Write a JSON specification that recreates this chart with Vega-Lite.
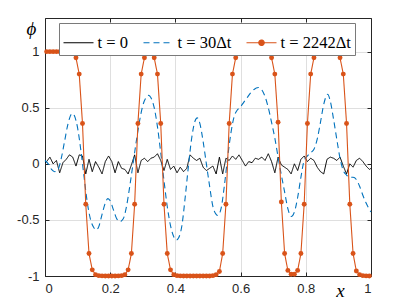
{
  "$schema": "https://vega.github.io/schema/vega-lite/v6.json",
  "width": 326,
  "height": 258,
  "autosize": {"type": "none"},
  "padding": {"left": 45, "top": 18, "right": 25, "bottom": 26},
  "config": {
    "view": {"stroke": null},
    "axis": {
      "labelFont": "Liberation Sans, Arial, Helvetica, sans-serif", "labelFontSize": 13, "labelColor": "#262626",
      "domainColor": "#262626", "tickColor": "#262626", "gridColor": "#dfdfdf",
      "tickSize": -4, "labelPadding": 10, "domainWidth": 1, "tickWidth": 1
    }
  },
  "data": {"values": [
    {"x":0.005,"y":1,"s":"c"},{"x":0.015,"y":1,"s":"c"},{"x":0.025,"y":1,"s":"c"},{"x":0.035,"y":1,"s":"c"},{"x":0.045,"y":1,"s":"c"},{"x":0.055,"y":1,"s":"c"},{"x":0.065,"y":0.999,"s":"c"},{"x":0.075,"y":0.997,"s":"c"},{"x":0.085,"y":0.988,"s":"c"},{"x":0.095,"y":0.945,"s":"c"},
    {"x":0.105,"y":0.8,"s":"c"},{"x":0.115,"y":0.36,"s":"c"},{"x":0.125,"y":-0.36,"s":"c"},{"x":0.135,"y":-0.8,"s":"c"},{"x":0.145,"y":-0.945,"s":"c"},{"x":0.155,"y":-0.988,"s":"c"},{"x":0.165,"y":-0.997,"s":"c"},{"x":0.175,"y":-0.999,"s":"c"},{"x":0.185,"y":-1,"s":"c"},{"x":0.195,"y":-1,"s":"c"},
    {"x":0.205,"y":-1,"s":"c"},{"x":0.215,"y":-1,"s":"c"},{"x":0.225,"y":-0.999,"s":"c"},{"x":0.235,"y":-0.997,"s":"c"},{"x":0.245,"y":-0.988,"s":"c"},{"x":0.255,"y":-0.945,"s":"c"},{"x":0.265,"y":-0.8,"s":"c"},{"x":0.275,"y":-0.36,"s":"c"},{"x":0.285,"y":0.36,"s":"c"},{"x":0.295,"y":0.8,"s":"c"},
    {"x":0.305,"y":0.945,"s":"c"},{"x":0.315,"y":0.985,"s":"c"},{"x":0.325,"y":0.985,"s":"c"},{"x":0.335,"y":0.945,"s":"c"},{"x":0.345,"y":0.8,"s":"c"},{"x":0.355,"y":0.36,"s":"c"},{"x":0.365,"y":-0.36,"s":"c"},{"x":0.375,"y":-0.8,"s":"c"},{"x":0.385,"y":-0.945,"s":"c"},{"x":0.395,"y":-0.988,"s":"c"},
    {"x":0.405,"y":-0.997,"s":"c"},{"x":0.415,"y":-0.999,"s":"c"},{"x":0.425,"y":-1,"s":"c"},{"x":0.435,"y":-1,"s":"c"},{"x":0.445,"y":-1,"s":"c"},{"x":0.455,"y":-1,"s":"c"},{"x":0.465,"y":-1,"s":"c"},{"x":0.475,"y":-1,"s":"c"},{"x":0.485,"y":-1,"s":"c"},{"x":0.495,"y":-1,"s":"c"},
    {"x":0.505,"y":-1,"s":"c"},{"x":0.515,"y":-0.997,"s":"c"},{"x":0.525,"y":-0.988,"s":"c"},{"x":0.535,"y":-0.96,"s":"c"},{"x":0.545,"y":-0.8,"s":"c"},{"x":0.555,"y":-0.36,"s":"c"},{"x":0.565,"y":0.36,"s":"c"},{"x":0.575,"y":0.8,"s":"c"},{"x":0.585,"y":0.945,"s":"c"},{"x":0.595,"y":0.988,"s":"c"},
    {"x":0.605,"y":0.997,"s":"c"},{"x":0.615,"y":0.999,"s":"c"},{"x":0.625,"y":1,"s":"c"},{"x":0.635,"y":1,"s":"c"},{"x":0.645,"y":1,"s":"c"},{"x":0.655,"y":1,"s":"c"},{"x":0.665,"y":0.999,"s":"c"},{"x":0.675,"y":0.997,"s":"c"},{"x":0.685,"y":0.988,"s":"c"},{"x":0.695,"y":0.945,"s":"c"},
    {"x":0.705,"y":0.8,"s":"c"},{"x":0.715,"y":0.37,"s":"c"},{"x":0.725,"y":-0.34,"s":"c"},{"x":0.735,"y":-0.8,"s":"c"},{"x":0.745,"y":-0.95,"s":"c"},{"x":0.755,"y":-0.985,"s":"c"},{"x":0.765,"y":-0.985,"s":"c"},{"x":0.775,"y":-0.95,"s":"c"},{"x":0.785,"y":-0.8,"s":"c"},{"x":0.795,"y":-0.36,"s":"c"},
    {"x":0.805,"y":0.36,"s":"c"},{"x":0.815,"y":0.8,"s":"c"},{"x":0.825,"y":0.945,"s":"c"},{"x":0.835,"y":0.988,"s":"c"},{"x":0.845,"y":0.997,"s":"c"},{"x":0.855,"y":0.999,"s":"c"},{"x":0.865,"y":1,"s":"c"},{"x":0.875,"y":0.999,"s":"c"},{"x":0.885,"y":0.997,"s":"c"},{"x":0.895,"y":0.988,"s":"c"},
    {"x":0.905,"y":0.945,"s":"c"},{"x":0.915,"y":0.8,"s":"c"},{"x":0.925,"y":0.36,"s":"c"},{"x":0.935,"y":-0.36,"s":"c"},{"x":0.945,"y":-0.8,"s":"c"},{"x":0.955,"y":-0.955,"s":"c"},{"x":0.965,"y":-0.988,"s":"c"},{"x":0.975,"y":-0.997,"s":"c"},{"x":0.985,"y":-0.999,"s":"c"},{"x":0.995,"y":-1,"s":"c"},

    {"x":0.0,"y":0.03,"s":"b"},{"x":0.01,"y":0.0,"s":"b"},{"x":0.02,"y":-0.05,"s":"b"},{"x":0.03,"y":-0.07,"s":"b"},{"x":0.04,"y":-0.05,"s":"b"},{"x":0.05,"y":0.05,"s":"b"},{"x":0.06,"y":0.2,"s":"b"},{"x":0.07,"y":0.35,"s":"b"},{"x":0.08,"y":0.44,"s":"b"},{"x":0.085,"y":0.45,"s":"b"},
    {"x":0.09,"y":0.43,"s":"b"},{"x":0.1,"y":0.32,"s":"b"},{"x":0.11,"y":0.12,"s":"b"},{"x":0.12,"y":-0.12,"s":"b"},{"x":0.13,"y":-0.35,"s":"b"},{"x":0.14,"y":-0.5,"s":"b"},{"x":0.15,"y":-0.57,"s":"b"},{"x":0.157,"y":-0.59,"s":"b"},{"x":0.165,"y":-0.56,"s":"b"},{"x":0.175,"y":-0.45,"s":"b"},
    {"x":0.185,"y":-0.35,"s":"b"},{"x":0.193,"y":-0.31,"s":"b"},{"x":0.2,"y":-0.33,"s":"b"},{"x":0.21,"y":-0.41,"s":"b"},{"x":0.22,"y":-0.49,"s":"b"},{"x":0.23,"y":-0.515,"s":"b"},{"x":0.24,"y":-0.49,"s":"b"},{"x":0.25,"y":-0.38,"s":"b"},{"x":0.26,"y":-0.2,"s":"b"},{"x":0.27,"y":0.0,"s":"b"},
    {"x":0.28,"y":0.2,"s":"b"},{"x":0.29,"y":0.38,"s":"b"},{"x":0.3,"y":0.52,"s":"b"},{"x":0.31,"y":0.59,"s":"b"},{"x":0.318,"y":0.61,"s":"b"},{"x":0.325,"y":0.59,"s":"b"},{"x":0.335,"y":0.5,"s":"b"},{"x":0.345,"y":0.33,"s":"b"},{"x":0.355,"y":0.1,"s":"b"},{"x":0.365,"y":-0.15,"s":"b"},
    {"x":0.375,"y":-0.38,"s":"b"},{"x":0.385,"y":-0.55,"s":"b"},{"x":0.395,"y":-0.65,"s":"b"},{"x":0.403,"y":-0.68,"s":"b"},{"x":0.41,"y":-0.66,"s":"b"},{"x":0.42,"y":-0.55,"s":"b"},{"x":0.43,"y":-0.3,"s":"b"},{"x":0.44,"y":-0.02,"s":"b"},{"x":0.45,"y":0.23,"s":"b"},{"x":0.46,"y":0.38,"s":"b"},
    {"x":0.467,"y":0.41,"s":"b"},{"x":0.475,"y":0.36,"s":"b"},{"x":0.485,"y":0.2,"s":"b"},{"x":0.495,"y":0.0,"s":"b"},{"x":0.505,"y":-0.2,"s":"b"},{"x":0.515,"y":-0.38,"s":"b"},{"x":0.525,"y":-0.45,"s":"b"},{"x":0.53,"y":-0.46,"s":"b"},{"x":0.54,"y":-0.4,"s":"b"},{"x":0.55,"y":-0.2,"s":"b"},
    {"x":0.56,"y":0.05,"s":"b"},{"x":0.57,"y":0.27,"s":"b"},{"x":0.58,"y":0.42,"s":"b"},{"x":0.59,"y":0.48,"s":"b"},{"x":0.6,"y":0.51,"s":"b"},{"x":0.61,"y":0.55,"s":"b"},{"x":0.62,"y":0.59,"s":"b"},{"x":0.63,"y":0.63,"s":"b"},{"x":0.64,"y":0.66,"s":"b"},{"x":0.655,"y":0.68,"s":"b"},
    {"x":0.665,"y":0.66,"s":"b"},{"x":0.675,"y":0.6,"s":"b"},{"x":0.685,"y":0.5,"s":"b"},{"x":0.695,"y":0.37,"s":"b"},{"x":0.705,"y":0.23,"s":"b"},{"x":0.715,"y":0.06,"s":"b"},{"x":0.725,"y":-0.1,"s":"b"},{"x":0.735,"y":-0.25,"s":"b"},{"x":0.745,"y":-0.4,"s":"b"},{"x":0.755,"y":-0.47,"s":"b"},
    {"x":0.765,"y":-0.43,"s":"b"},{"x":0.775,"y":-0.3,"s":"b"},{"x":0.785,"y":-0.12,"s":"b"},{"x":0.795,"y":0.03,"s":"b"},{"x":0.805,"y":0.07,"s":"b"},{"x":0.815,"y":0.1,"s":"b"},{"x":0.825,"y":0.13,"s":"b"},{"x":0.835,"y":0.22,"s":"b"},{"x":0.845,"y":0.37,"s":"b"},{"x":0.855,"y":0.53,"s":"b"},
    {"x":0.867,"y":0.62,"s":"b"},{"x":0.875,"y":0.56,"s":"b"},{"x":0.885,"y":0.4,"s":"b"},{"x":0.895,"y":0.22,"s":"b"},{"x":0.905,"y":0.05,"s":"b"},{"x":0.915,"y":-0.06,"s":"b"},{"x":0.925,"y":-0.1,"s":"b"},{"x":0.935,"y":-0.12,"s":"b"},{"x":0.945,"y":-0.12,"s":"b"},{"x":0.955,"y":-0.14,"s":"b"},
    {"x":0.965,"y":-0.2,"s":"b"},{"x":0.975,"y":-0.28,"s":"b"},{"x":0.985,"y":-0.35,"s":"b"},{"x":1.0,"y":-0.43,"s":"b"},

    {"x":0.0,"y":0.01,"s":"a"},{"x":0.005,"y":0.02,"s":"a"},{"x":0.015,"y":0.06,"s":"a"},{"x":0.025,"y":0.0,"s":"a"},{"x":0.035,"y":0.03,"s":"a"},{"x":0.045,"y":-0.08,"s":"a"},{"x":0.055,"y":0.01,"s":"a"},{"x":0.065,"y":0.04,"s":"a"},{"x":0.075,"y":0.08,"s":"a"},{"x":0.085,"y":0.06,"s":"a"},{"x":0.095,"y":-0.02,"s":"a"},
    {"x":0.105,"y":0.08,"s":"a"},{"x":0.115,"y":0.07,"s":"a"},{"x":0.125,"y":-0.09,"s":"a"},{"x":0.135,"y":0.04,"s":"a"},{"x":0.145,"y":-0.07,"s":"a"},{"x":0.155,"y":0.02,"s":"a"},{"x":0.165,"y":-0.03,"s":"a"},{"x":0.175,"y":-0.09,"s":"a"},{"x":0.185,"y":0.02,"s":"a"},{"x":0.195,"y":0.07,"s":"a"},
    {"x":0.205,"y":0.02,"s":"a"},{"x":0.215,"y":-0.08,"s":"a"},{"x":0.225,"y":0.02,"s":"a"},{"x":0.235,"y":-0.04,"s":"a"},{"x":0.245,"y":-0.05,"s":"a"},{"x":0.255,"y":-0.09,"s":"a"},{"x":0.265,"y":-0.01,"s":"a"},{"x":0.275,"y":0.08,"s":"a"},{"x":0.285,"y":-0.08,"s":"a"},{"x":0.295,"y":0.03,"s":"a"},
    {"x":0.305,"y":0.05,"s":"a"},{"x":0.315,"y":0.02,"s":"a"},{"x":0.325,"y":0.05,"s":"a"},{"x":0.335,"y":0.06,"s":"a"},{"x":0.345,"y":0.09,"s":"a"},{"x":0.355,"y":0.03,"s":"a"},{"x":0.365,"y":-0.06,"s":"a"},{"x":0.375,"y":0.04,"s":"a"},{"x":0.385,"y":-0.05,"s":"a"},{"x":0.395,"y":-0.02,"s":"a"},
    {"x":0.405,"y":-0.08,"s":"a"},{"x":0.415,"y":-0.03,"s":"a"},{"x":0.425,"y":-0.07,"s":"a"},{"x":0.435,"y":-0.04,"s":"a"},{"x":0.445,"y":0.08,"s":"a"},{"x":0.455,"y":0.05,"s":"a"},{"x":0.465,"y":0.03,"s":"a"},{"x":0.475,"y":0.05,"s":"a"},{"x":0.485,"y":-0.03,"s":"a"},{"x":0.495,"y":-0.06,"s":"a"},
    {"x":0.505,"y":-0.04,"s":"a"},{"x":0.515,"y":-0.02,"s":"a"},{"x":0.525,"y":-0.09,"s":"a"},{"x":0.535,"y":0.06,"s":"a"},{"x":0.545,"y":-0.09,"s":"a"},{"x":0.555,"y":0.05,"s":"a"},{"x":0.565,"y":0.03,"s":"a"},{"x":0.575,"y":0.07,"s":"a"},{"x":0.585,"y":0.04,"s":"a"},{"x":0.595,"y":0.08,"s":"a"},
    {"x":0.605,"y":0.03,"s":"a"},{"x":0.615,"y":-0.02,"s":"a"},{"x":0.625,"y":0.02,"s":"a"},{"x":0.635,"y":0.01,"s":"a"},{"x":0.645,"y":0.05,"s":"a"},{"x":0.655,"y":0.04,"s":"a"},{"x":0.665,"y":0.06,"s":"a"},{"x":0.675,"y":0.03,"s":"a"},{"x":0.685,"y":0.09,"s":"a"},{"x":0.695,"y":0.02,"s":"a"},
    {"x":0.705,"y":-0.08,"s":"a"},{"x":0.715,"y":0.06,"s":"a"},{"x":0.725,"y":-0.01,"s":"a"},{"x":0.735,"y":-0.03,"s":"a"},{"x":0.745,"y":-0.05,"s":"a"},{"x":0.755,"y":-0.09,"s":"a"},{"x":0.765,"y":0.0,"s":"a"},{"x":0.775,"y":-0.06,"s":"a"},{"x":0.785,"y":0.04,"s":"a"},{"x":0.795,"y":0.07,"s":"a"},
    {"x":0.805,"y":0.02,"s":"a"},{"x":0.815,"y":0.05,"s":"a"},{"x":0.825,"y":0.03,"s":"a"},{"x":0.835,"y":-0.03,"s":"a"},{"x":0.845,"y":-0.07,"s":"a"},{"x":0.855,"y":-0.09,"s":"a"},{"x":0.865,"y":0.04,"s":"a"},{"x":0.875,"y":0.06,"s":"a"},{"x":0.885,"y":0.05,"s":"a"},{"x":0.895,"y":0.03,"s":"a"},
    {"x":0.905,"y":0.06,"s":"a"},{"x":0.915,"y":-0.02,"s":"a"},{"x":0.925,"y":-0.09,"s":"a"},{"x":0.935,"y":0.0,"s":"a"},{"x":0.945,"y":-0.03,"s":"a"},{"x":0.955,"y":0.03,"s":"a"},{"x":0.965,"y":0.05,"s":"a"},{"x":0.975,"y":0.02,"s":"a"},{"x":0.985,"y":-0.02,"s":"a"},{"x":0.995,"y":-0.05,"s":"a"},{"x":1.0,"y":-0.04,"s":"a"}
  ]},
  "layer": [
    {
      "transform": [{"filter": "datum.s == 'a'"}],
      "mark": {"type": "line", "strokeWidth": 1},
      "encoding": {
        "x": {"field": "x", "type": "quantitative", "scale": {"domain": [0, 1], "nice": false, "zero": false},
              "axis": {"orient": "bottom", "values": [0, 0.2, 0.4, 0.6, 0.8, 1], "labelExpr": "'' + datum.value", "grid": true,
                       "title": "x", "titleFont": "Liberation Serif, Times New Roman, DejaVu Serif, serif", "titleFontStyle": "italic", "titleFontWeight": "normal", "titleFontSize": 19, "titleColor": "#000000",
                       "titleX": 295, "titleY": 20, "titleAlign": "center", "titleBaseline": "alphabetic"}},
        "y": {"field": "y", "type": "quantitative", "scale": {"domain": [-1, 1.3], "nice": false, "zero": false},
              "axis": {"orient": "left", "values": [-1, -0.5, 0, 0.5, 1], "labelExpr": "'' + datum.value", "grid": true,
                       "title": "ϕ", "titleFont": "Liberation Serif, Times New Roman, DejaVu Serif, serif", "titleFontStyle": "italic", "titleFontWeight": "normal", "titleFontSize": 19, "titleColor": "#000000",
                       "titleAngle": 0, "titleX": -14, "titleY": 16, "titleAlign": "center", "titleBaseline": "alphabetic"}},
        "color": {"field": "s", "type": "nominal",
                  "scale": {"domain": ["a", "b", "c"], "range": ["#000000", "#0072BD", "#D95319"]},
                  "legend": {
                    "orient": "none", "legendX": 14, "legendY": 5, "direction": "horizontal", "title": null,
                    "symbolType": "stroke", "symbolSize": 900, "symbolStrokeWidth": 1.2,
                    "labelFont": "Liberation Serif, Times New Roman, DejaVu Serif, serif", "labelFontSize": 16.5, "labelColor": "#000000", "labelOffset": 3,
                    "columnPadding": 12, "padding": 3.5, "fillColor": "#ffffff", "strokeColor": "#7a7a7a",
                    "labelExpr": "datum.value == 'a' ? 't = 0' : (datum.value == 'b' ? 't = 30Δt' : 't = 2242Δt')",
                    "encode": {"symbols": {"update": {
                      "shape": {"signal": "datum.value == 'c' ? 'M-1,0H1M0.18,0A0.18,0.18 0 1 1 -0.18,0A0.18,0.18 0 1 1 0.18,0' : 'stroke'"},
                      "fill": {"signal": "datum.value == 'c' ? '#D95319' : 'transparent'"}
                    }}}
                  }},
        "strokeDash": {"field": "s", "type": "nominal",
                       "scale": {"domain": ["a", "b", "c"], "range": [[1, 0], [6, 4], [1, 0]]},
                       "legend": null}
      }
    },
    {
      "transform": [{"filter": "datum.s == 'b'"}],
      "mark": {"type": "line", "strokeWidth": 1.1, "interpolate": "monotone"},
      "encoding": {
        "x": {"field": "x", "type": "quantitative", "axis": null},
        "y": {"field": "y", "type": "quantitative", "axis": null},
        "color": {"field": "s", "type": "nominal"},
        "strokeDash": {"field": "s", "type": "nominal", "legend": null}
      }
    },
    {
      "transform": [{"filter": "datum.s == 'c'"}],
      "mark": {"type": "line", "strokeWidth": 1.1},
      "encoding": {
        "x": {"field": "x", "type": "quantitative", "axis": null},
        "y": {"field": "y", "type": "quantitative", "axis": null},
        "color": {"field": "s", "type": "nominal"},
        "strokeDash": {"field": "s", "type": "nominal", "legend": null}
      }
    },
    {
      "transform": [{"filter": "datum.s == 'c'"}],
      "mark": {"type": "point", "filled": true, "size": 24, "opacity": 1},
      "encoding": {
        "x": {"field": "x", "type": "quantitative",
              "axis": {"orient": "top", "values": [0, 0.2, 0.4, 0.6, 0.8, 1], "labels": false, "grid": false, "title": null}},
        "y": {"field": "y", "type": "quantitative",
              "axis": {"orient": "right", "values": [-1, -0.5, 0, 0.5, 1], "labels": false, "grid": false, "title": null}},
        "color": {"value": "#D95319"}
      }
    }
  ],
  "resolve": {"axis": {"x": "independent", "y": "independent"}}
}
